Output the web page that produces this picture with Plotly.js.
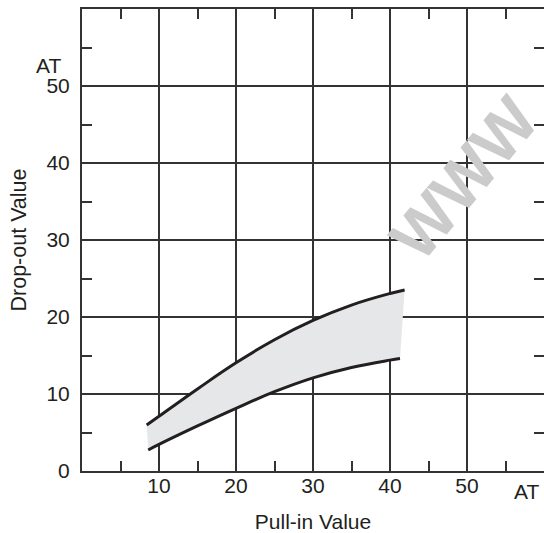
<!DOCTYPE html>
<html>
<head>
<meta charset="utf-8">
<script src="https://cdn.plot.ly/plotly-3.0.1.min.js"></script>
<style>html,body{margin:0;padding:0;background:#fff;}#chart{width:544px;height:533px;}</style>
</head>
<body>
<div id="chart"></div>
<script>
// Upper boundary of the band (Pull-in value, Drop-out value)
const upperX = [8.4, 10, 15, 20, 25, 30, 35, 40, 41.9];
const upperY = [5.97, 7.1, 10.65, 14.05, 17.05, 19.55, 21.55, 23.05, 23.5];
// Lower boundary of the band
const lowerX = [8.6, 10, 15, 20, 25, 30, 35, 40, 41.3];
const lowerY = [2.73, 3.45, 5.85, 8.14, 10.3, 12.1, 13.45, 14.4, 14.6];

const majorTicks = [10, 20, 30, 40, 50];
const yMajorTicks = [0, 10, 20, 30, 40, 50];
const minorTicks = [5, 15, 25, 35, 45, 55];

const xTitle = 'Pull-in Value';
const yTitle = 'Drop-out Value';
const unitLabel = 'AT';
const watermark = 'WWW';

const FONT = 'Liberation Sans, Arial, sans-serif';
const INK = '#231f20';
const GRID = '#333333';

const traces = [
  {x: lowerX, y: lowerY, type: 'scatter', mode: 'lines',
   line: {color: INK, width: 3, shape: 'spline', smoothing: 1.2}, showlegend: false},
  {x: upperX, y: upperY, type: 'scatter', mode: 'lines', fill: 'tonexty',
   fillcolor: '#e6e7e8',
   line: {color: INK, width: 3, shape: 'spline', smoothing: 1.2}, showlegend: false}
];

const axisCommon = {
  range: [0, 60], showgrid: true, gridcolor: GRID, gridwidth: 2,
  zeroline: false, showline: true, linecolor: GRID, linewidth: 2,
  mirror: 'ticks', ticks: '', fixedrange: true,
  tickfont: {family: FONT, size: 21, color: INK},
  minor: {tickvals: minorTicks, ticks: 'inside', ticklen: 10, tickwidth: 2,
          tickcolor: GRID, showgrid: false}
};

const layout = {
  width: 544, height: 533,
  margin: {l: 82, r: 0, t: 9, b: 62},
  paper_bgcolor: '#ffffff', plot_bgcolor: '#ffffff',
  font: {family: FONT, color: INK},
  showlegend: false,
  xaxis: Object.assign({}, axisCommon, {
    tickvals: majorTicks, ticklabelstandoff: -5,
    title: {text: xTitle, font: {family: FONT, size: 21, color: INK}, standoff: 18}
  }),
  yaxis: Object.assign({}, axisCommon, {
    tickvals: yMajorTicks, ticklabelstandoff: 6,
    title: {text: yTitle, font: {family: FONT, size: 21.5, color: INK}, standoff: 14}
  }),
  annotations: [
    {text: unitLabel, xref: 'paper', yref: 'y', x: 0, y: 52.7, xanchor: 'right',
     xshift: -19, yanchor: 'middle', showarrow: false,
     font: {family: FONT, size: 21, color: INK}},
    {text: unitLabel, xref: 'paper', yref: 'paper', x: 1, y: 0, xanchor: 'right',
     yanchor: 'middle', yshift: -20, xshift: -3, showarrow: false,
     font: {family: FONT, size: 21, color: INK}},
    {text: watermark, xref: 'x', yref: 'y', x: 49.6, y: 38.1, textangle: -50,
     showarrow: false, font: {family: FONT, size: 66, color: '#cbcbcb', weight: 'bold'}}
  ]
};

Plotly.newPlot('chart', traces, layout, {staticPlot: true, displayModeBar: false});
</script>
</body>
</html>
